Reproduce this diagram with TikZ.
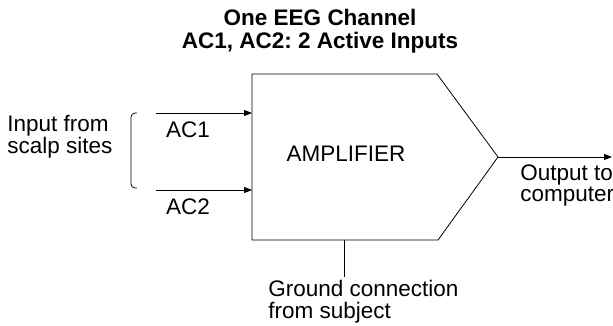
\documentclass[tikz,border=0pt]{standalone}
\usepackage{fontspec}
\setmainfont{Liberation Sans}
\usetikzlibrary{arrows.meta}
\frenchspacing

\begin{document}
\begin{tikzpicture}[x=1pt, y=-1pt, line width=0.8pt,
    lbl/.style={inner sep=0pt, font=\fontsize{22.5}{21.5}\selectfont},
    feed/.style={-{Triangle[length=8pt,width=6pt]}}]
    \useasboundingbox (0,0) rectangle (613,325);

    % Title
    \node[lbl, font=\bfseries\fontsize{22.5}{23}\selectfont, align=center, anchor=north] (title) at (320,9) {One EEG Channel\\AC1, AC2: 2 Active Inputs};

    % Amplifier body
    \coordinate (nw) at (252,74);
    \coordinate (ne) at (437,74);
    \coordinate (tip) at (498,157);
    \coordinate (se) at (438,240);
    \coordinate (sw) at (252,240);
    \draw (sw) -- (nw) -- (ne) -- (tip) -- (se) -- cycle;
    \node[lbl] (amp) at (346,153.5) {AMPLIFIER};

    % Inputs
    \node[lbl, align=left, anchor=north west] (scalp) at (7,115) {Input from\\scalp sites};
    \draw[rounded corners=4pt] (137,113) -- (131,113) -- (131,188) -- (137,188);
    \coordinate (src1) at (156,113);
    \coordinate (in1) at (252,113);
    \coordinate (src2) at (156,190);
    \coordinate (in2) at (252,190);
    \draw[feed] (src1) -- (in1);
    \draw[feed] (src2) -- (in2);
    \node[lbl] (ac1) at (188,130) {AC1};
    \node[lbl] (ac2) at (188,207) {AC2};

    % Output
    \coordinate (out) at (612,157);
    \draw[feed] (tip) -- (out);
    \node[lbl, align=left, anchor=north west] (comp) at (520,164) {Output to\\computer};

    % Ground
    \coordinate (gnd) at (344,240);
    \coordinate (gndend) at (344,277);
    \draw (gnd) -- (gndend);
    \node[lbl, align=left, anchor=north west] (subj) at (268,280) {Ground connection\\from subject};
\end{tikzpicture}
\end{document}
